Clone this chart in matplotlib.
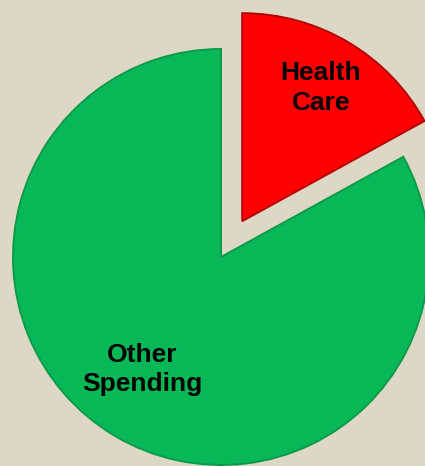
import matplotlib.pyplot as plt

# share of spending
labels = ['Health\nCare', 'Other\nSpending']
values = [17, 83]
colors = ['#FF0000', '#08B856']
explode = [0.2, 0]

bg = '#DDD8C5'

fig = plt.figure(figsize=(4.25, 4.66), dpi=100, facecolor=bg)
ax = fig.add_axes([0, 0, 1, 1])
ax.set_facecolor(bg)

wedges, texts = ax.pie(values, labels=labels, colors=colors, explode=explode,
                       startangle=90, counterclock=False, radius=1,
                       labeldistance=0.745,
                       wedgeprops={'linewidth': 1.4},
                       textprops={'fontsize': 19, 'fontweight': 'bold',
                                  'family': 'Liberation Sans', 'color': 'black'})
wedges[0].set_edgecolor('#B40000')
wedges[1].set_edgecolor('#0B9A47')

for t in texts:
    t.set_ha('center')
    t.set_va('center')
    t.set_linespacing(1.3)

# lift the big slice label a bit
x, y = texts[1].get_position()
texts[1].set_position((x, y + 0.1))

# pixel layout: centre at (221, 257), radius 208 px
ax.set_xlim(-221 / 208, (425 - 221) / 208)
ax.set_ylim(-(466 - 257) / 208, 257 / 208)
ax.set_aspect('auto')
ax.axis('off')

fig.savefig('out.png', dpi=100, facecolor=bg)
